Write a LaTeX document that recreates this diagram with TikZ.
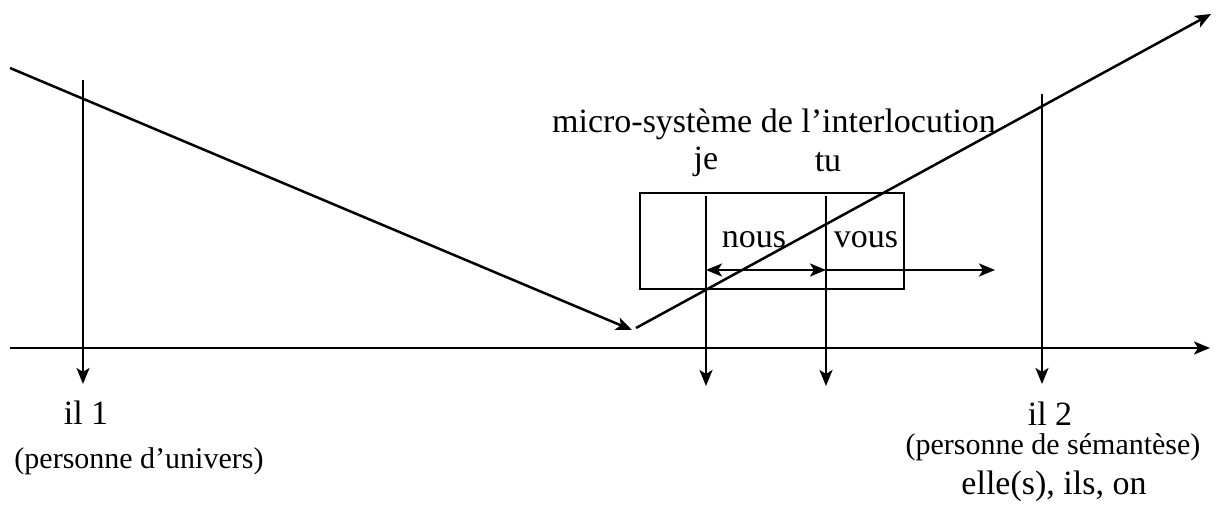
\documentclass[tikz,border=0pt]{standalone}
\usepackage{fontspec}
\setmainfont{Liberation Serif}
\usetikzlibrary{positioning, arrows.meta}

\begin{document}
\begin{tikzpicture}[x=1pt, y=-1pt, line width=2.5pt,
    >={Stealth[length=16pt, width=13pt, inset=4pt]},
    lbl/.style={font=\fontsize{34}{40}\selectfont, inner sep=0pt},
    sub/.style={font=\fontsize{30}{36}\selectfont, inner sep=0pt}]
    \useasboundingbox (0,0) rectangle (1216,516);

        % axe
        \coordinate (a0) at (10,348);
        \coordinate (a1) at (1210,348);

        % les deux droites
        \coordinate (d0) at (10,68);
        \coordinate (d1) at (632,330);
        \coordinate (d2) at (636,328);
        \coordinate (d3) at (1211,14);

        % verticales
        \coordinate (v1a) at (83,80);    \coordinate (v1b) at (83,384);
        \coordinate (jeA) at (706,196);  \coordinate (jeB) at (706,386);
        \coordinate (tuA) at (826,196);  \coordinate (tuB) at (826,386);
        \coordinate (v2a) at (1042,94);  \coordinate (v2b) at (1042,384);

        \coordinate (n0) at (706,270);
        \coordinate (n1) at (826,270);
        \coordinate (n2) at (995,270);

        \node[draw, line width=1.6pt, minimum width=264pt, minimum height=96pt, inner sep=0pt] (box) at (772,241) {};

        \node[lbl] (micro) at (774,124) {micro-système de l’interlocution};
        \node[lbl] (je) at (706,162) {je};
        \node[lbl] (tu) at (828,162) {tu};
        \node[lbl] (nous) at (754,240) {nous};
        \node[lbl] (vous) at (866,240) {vous};

        \node[lbl] (il1) at (86,413) {il 1};
        \node[sub] (univ) at (139,461) {(personne d’univers)};
        \node[lbl] (il2) at (1050,414) {il 2};
        \node[sub] (sem) at (1053,447) {(personne de sémantèse)};
        \node[lbl] (on) at (1054,486) {elle(s), ils, on};

		\path[->]
        (a0) edge (a1)
        (d0) edge (d1)
        (d2) edge (d3)
        (v1a) edge (v1b)
        (jeA) edge (jeB)
        (tuA) edge (tuB)
        (v2a) edge (v2b)
        (n1) edge (n2);

        \draw[<->] (n0) -- (n1);

    \end{tikzpicture}
\end{document}
